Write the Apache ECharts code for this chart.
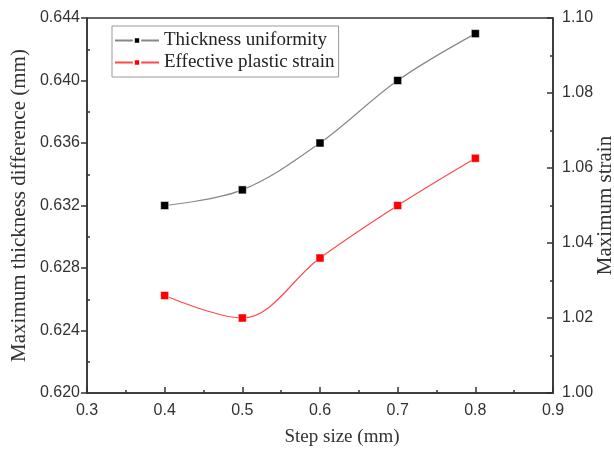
<!DOCTYPE html>
<html><head><meta charset="utf-8">
<script src="https://cdn.jsdelivr.net/npm/echarts@6/dist/echarts.min.js"></script>
<style>html,body{margin:0;padding:0;background:#fff}#c{width:614px;height:450px}</style>
</head><body><div id="c"></div>
<script>
const stepSizes = [0.4, 0.5, 0.6, 0.7, 0.8];
const thicknessUniformity = [0.632, 0.633, 0.636, 0.640, 0.643];
const effectiveStrain = [1.026, 1.020, 1.036, 1.050, 1.0626];
const seriesNames = ['Thickness uniformity', 'Effective plastic strain'];

const chart = echarts.init(document.getElementById('c'));
const AX = '#333';
const lbl = {color: '#333', fontFamily: 'Liberation Sans', fontSize: 16};
const nameStyle = {color: '#333', fontFamily: 'Liberation Serif', fontSize: 21};
chart.setOption({
  animation: false,
  grid: {left: 87, right: 61, top: 18, bottom: 57, show: true, borderColor: AX, borderWidth: 1.5,
         containLabel: false, outerBoundsMode: 'none'},
  legend: {
    orient: 'vertical', left: 112, top: 26,
    itemWidth: 44, itemHeight: 8, itemGap: 3,
    borderColor: '#999', borderWidth: 1, padding: [5, 4, 5, 2],
    textStyle: {fontFamily: 'Liberation Serif', fontSize: 19, color: '#222'},
    data: seriesNames
  },
  xAxis: {
    type: 'value', min: 0.3, max: 0.9, interval: 0.1,
    name: 'Step size (mm)', nameLocation: 'middle', nameGap: 35, nameMoveOverlap: false,
    nameTextStyle: Object.assign({}, nameStyle, {fontSize: 19, padding: [0, 0, 0, 44]}),
    axisLine: {show: true, onZero: false, lineStyle: {color: AX, width: 1.5}},
    axisTick: {show: true, inside: true, length: 6, lineStyle: {color: AX, width: 1.5}},
    minorTick: {show: true, splitNumber: 2, length: 3, lineStyle: {color: AX, width: 1.5}},
    splitLine: {show: false},
    axisLabel: Object.assign({}, lbl, {margin: 10, formatter: v => v.toFixed(1)})
  },
  yAxis: [
    {
      type: 'value', min: 0.620, max: 0.644, interval: 0.004, position: 'left',
      name: 'Maximum thickness difference (mm)', nameLocation: 'middle', nameGap: 57, nameMoveOverlap: false,
      nameTextStyle: nameStyle,
      axisLine: {show: true, lineStyle: {color: AX, width: 1.5}},
      axisTick: {show: true, inside: false, length: 6, lineStyle: {color: AX, width: 1.5}},
      minorTick: {show: false},
      splitLine: {show: false},
      axisLabel: Object.assign({}, lbl, {margin: 7, formatter: v => v.toFixed(3)})
    },
    {
      type: 'value', min: 1.00, max: 1.10, interval: 0.02, position: 'right',
      name: 'Maximum strain', nameLocation: 'middle', nameGap: 42, nameRotate: 90, nameMoveOverlap: false,
      nameTextStyle: nameStyle,
      axisLine: {show: true, lineStyle: {color: AX, width: 1.5}},
      axisTick: {show: true, inside: true, length: 6, lineStyle: {color: AX, width: 1.5}},
      minorTick: {show: true, splitNumber: 2, length: 3, lineStyle: {color: AX, width: 1.5}},
      splitLine: {show: false},
      axisLabel: Object.assign({}, lbl, {margin: 9, formatter: v => v.toFixed(2)})
    },
    {
      type: 'value', min: 0.620, max: 0.644, interval: 0.004, position: 'left',
      axisLine: {show: false},
      axisTick: {show: false, inside: true},
      minorTick: {show: true, splitNumber: 2, length: 3, lineStyle: {color: AX, width: 1.5}},
      splitLine: {show: false},
      axisLabel: {show: false}
    }
  ],
  series: [
    {
      name: seriesNames[0], type: 'line', yAxisIndex: 0, smooth: 0.35,
      data: stepSizes.map((x, i) => [x, thicknessUniformity[i]]),
      symbol: 'rect', symbolSize: 8,
      lineStyle: {color: '#888', width: 1.2},
      itemStyle: {color: '#000', borderColor: '#fff', borderWidth: 0.5}
    },
    {
      name: seriesNames[1], type: 'line', yAxisIndex: 1, smooth: 0.35,
      data: stepSizes.map((x, i) => [x, effectiveStrain[i]]),
      symbol: 'rect', symbolSize: 8,
      lineStyle: {color: '#ff4a4a', width: 1.2},
      itemStyle: {color: '#ff0000', borderColor: '#fff', borderWidth: 0.5}
    }
  ]
});
</script></body></html>
